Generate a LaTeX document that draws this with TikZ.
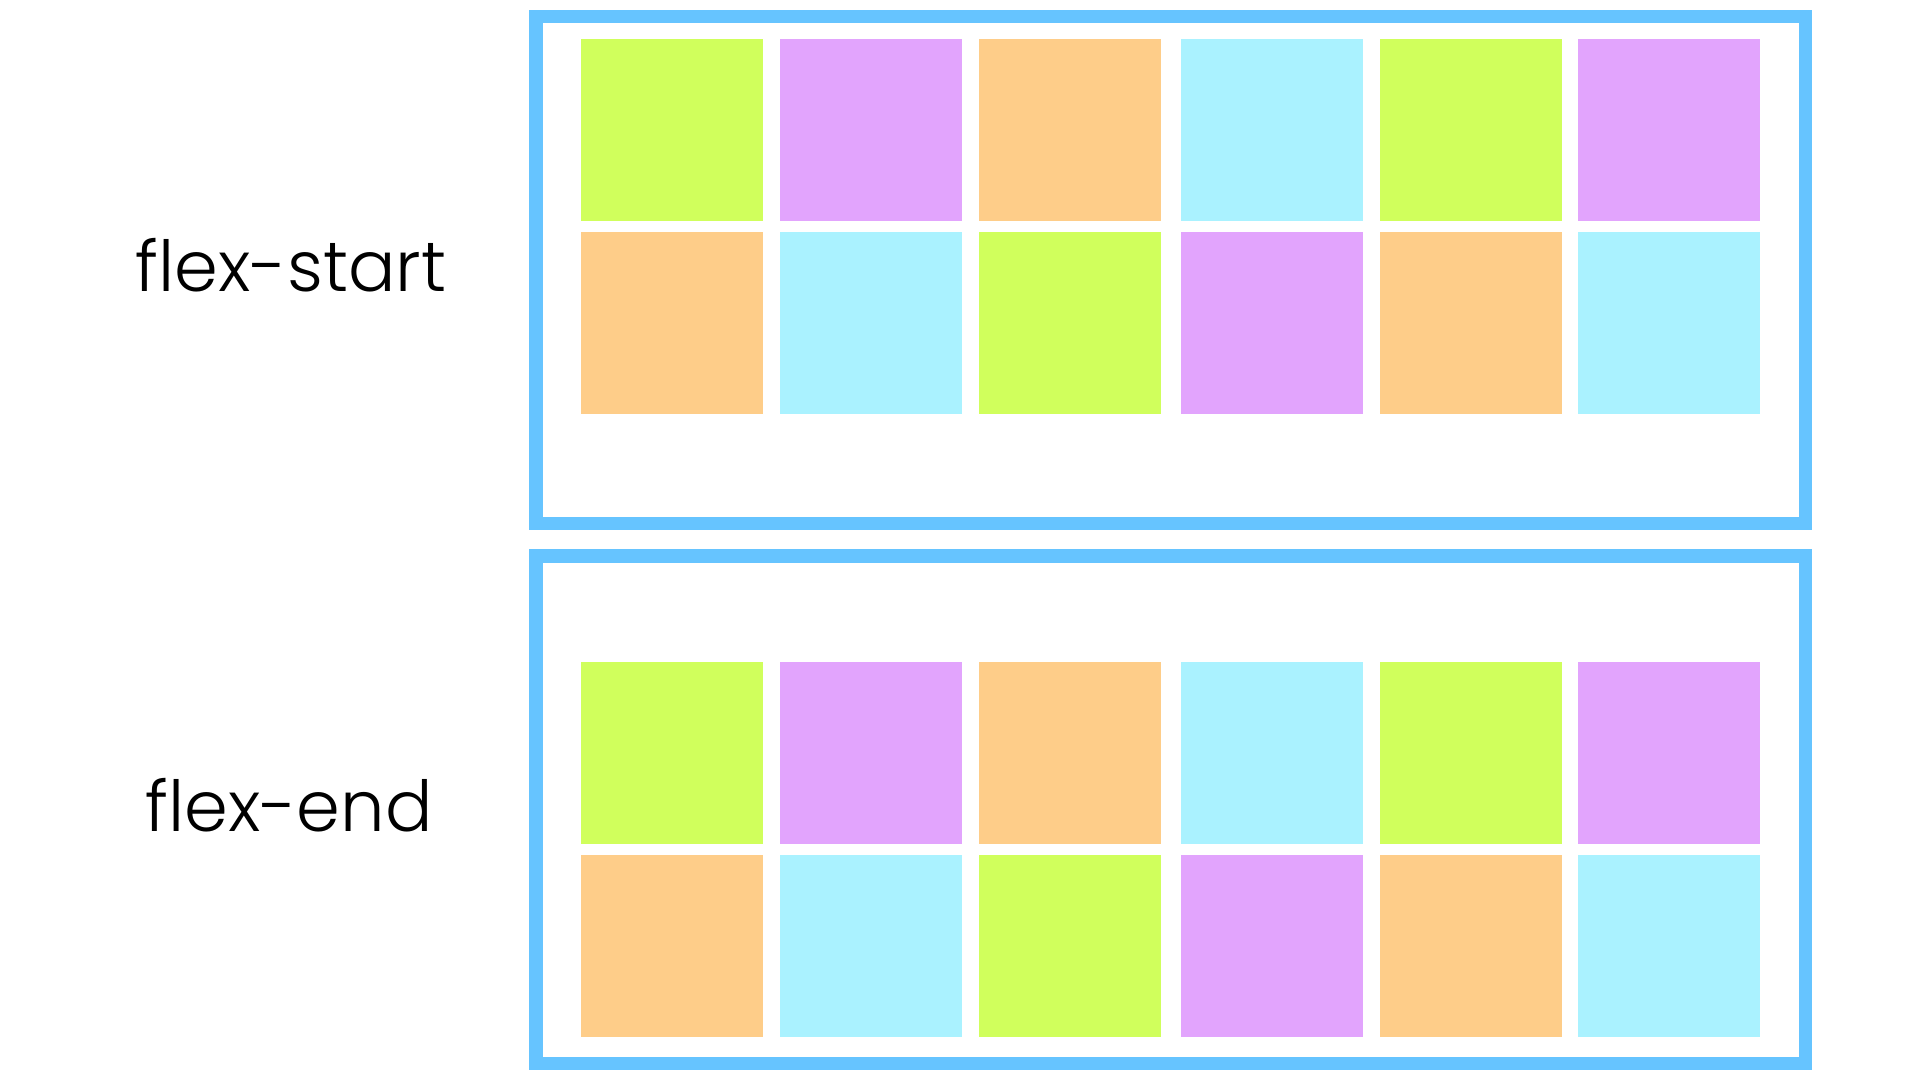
\documentclass[tikz,border=0pt]{standalone}
\usepackage{fontspec}
\setmainfont{Poppins}[UprightFont=* Light]
\usepackage{tikz}
\usetikzlibrary{positioning,calc}
\definecolor{BoxBlue}{RGB}{102,196,255}
\definecolor{ItemGreen}{RGB}{208,255,92}
\definecolor{ItemPurple}{RGB}{226,164,253}
\definecolor{ItemOrange}{RGB}{254,205,137}
\definecolor{ItemCyan}{RGB}{170,242,255}
\tikzset{
  item/.style={rectangle,inner sep=0pt,minimum width=1.82cm,minimum height=1.815cm},
  frame/.style={draw=BoxBlue,line width=3.85pt},
  lbl/.style={anchor=base,inner sep=0pt,font=\fontsize{20}{24}\selectfont},
}

\begin{document}
\begin{tikzpicture}[x=0.01cm,y=-0.01cm]
\useasboundingbox (0,0) rectangle (1920,1080);
\draw[frame] (536,16.3) rectangle (1805.7,523.3);
\draw[frame] (536,556.2) rectangle (1805.7,1063.3);
% flex-start
\node[item,fill=ItemGreen] (a1) at (672,130.3) {};
\node[item,fill=ItemPurple] (a2) at (871,130.3) {};
\node[item,fill=ItemOrange] (a3) at (1070,130.3) {};
\node[item,fill=ItemCyan] (a4) at (1271.7,130.3) {};
\node[item,fill=ItemGreen] (a5) at (1471,130.3) {};
\node[item,fill=ItemPurple] (a6) at (1669,130.3) {};
\node[item,fill=ItemOrange] (a7) at (672,323) {};
\node[item,fill=ItemCyan] (a8) at (871,323) {};
\node[item,fill=ItemGreen] (a9) at (1070,323) {};
\node[item,fill=ItemPurple] (a10) at (1271.7,323) {};
\node[item,fill=ItemOrange] (a11) at (1471,323) {};
\node[item,fill=ItemCyan] (a12) at (1669,323) {};
% flex-end
\node[item,fill=ItemGreen] (b1) at (672,753) {};
\node[item,fill=ItemPurple] (b2) at (871,753) {};
\node[item,fill=ItemOrange] (b3) at (1070,753) {};
\node[item,fill=ItemCyan] (b4) at (1271.7,753) {};
\node[item,fill=ItemGreen] (b5) at (1471,753) {};
\node[item,fill=ItemPurple] (b6) at (1669,753) {};
\node[item,fill=ItemOrange] (b7) at (672,946) {};
\node[item,fill=ItemCyan] (b8) at (871,946) {};
\node[item,fill=ItemGreen] (b9) at (1070,946) {};
\node[item,fill=ItemPurple] (b10) at (1271.7,946) {};
\node[item,fill=ItemOrange] (b11) at (1471,946) {};
\node[item,fill=ItemCyan] (b12) at (1669,946) {};
\node[lbl] (start) at (291,291.7) {flex-start};
\node[lbl] (end) at (289,831.7) {flex-end};
\end{tikzpicture}
\end{document}
